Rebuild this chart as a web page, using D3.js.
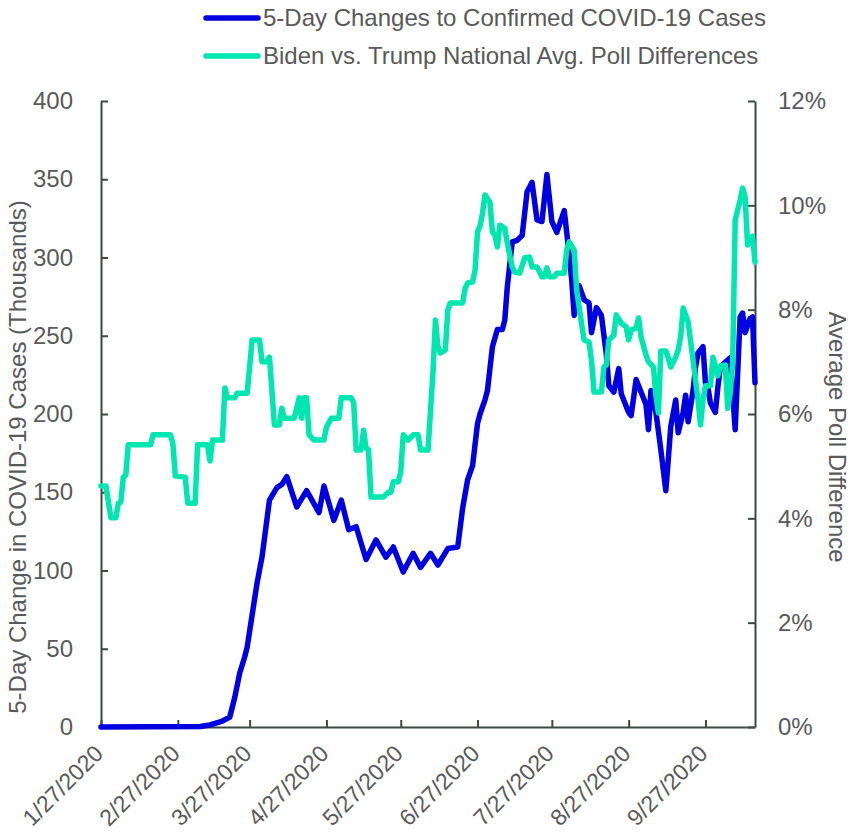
<!DOCTYPE html>
<html>
<head>
<meta charset="utf-8">
<script src="https://cdn.jsdelivr.net/npm/d3@7"></script>
<style>
  body { margin: 0; background: #fff; }
  svg text { font-family: "Liberation Sans", Arial, sans-serif; fill: #595959; }
</style>
</head>
<body>
<svg id="chart" width="852" height="833"></svg>
<script>
// 5-day change in confirmed cases (thousands)
var caseDates = ["1/27","3/7","3/11","3/16","3/19","3/21","3/23","3/25","3/26","3/30",
  "4/1","4/4","4/7","4/9","4/11","4/15","4/19","4/24","4/26","4/30",
  "5/3","5/6","5/9","5/13","5/17","5/21","5/24","5/28","6/1","6/4",
  "6/8","6/11","6/15","6/19","6/21","6/23","6/25","6/27","6/28","6/30",
  "7/1","7/3","7/5","7/7","7/8","7/9","7/11","7/13","7/15","7/17",
  "7/19","7/21","7/23","7/25","7/27","7/29","8/1","8/2","8/4","8/5",
  "8/7","8/9","8/11","8/12","8/14","8/16","8/18","8/19","8/21","8/23",
  "8/24","8/27","8/28","8/30","9/1","9/3","9/4","9/5","9/7","9/9",
  "9/11","9/12","9/13","9/15","9/16","9/18","9/19","9/20","9/22","9/23",
  "9/24","9/26","9/27","9/28","9/29","10/1","10/2","10/3","10/5","10/7",
  "10/9","10/11","10/12","10/13","10/15","10/16","10/17"];
var caseValues = [0,0.3,1.3,3.8,6.4,19,34.5,44.7,51,92,
  108.6,145,153,155,160,140.6,151,137,154,132,
  145,126,128,107,119.5,108.6,115,99,111,102,
  111,103.5,114,115,140,158,167,194,200,209,
  215,243,254,254,260,281,310,311,314,342,
  348,324,323,353,323,316,330,316,286,263,
  282,273,271,252,268,263,238,218,214,229,
  213,201,199,222,214,206,190,215,201,177,
  151,171,192,209,188,201,212,195,215,230,
  239,243,220,217,207,201,217,230,233,236,
  190,262,264.5,252,261,262,220];

// Biden vs. Trump national average poll difference (%)
var pollDates = ["1/27","1/29","1/31","2/2","2/3","2/4","2/5","2/6","2/7","2/16",
  "2/17","2/24","2/25","2/26","3/1","3/2","3/5","3/6","3/10","3/11",
  "3/12","3/16","3/17","3/18","3/21","3/22","3/26","3/28","3/31","4/1",
  "4/3","4/4","4/6","4/8","4/9","4/10","4/14","4/16","4/17","4/18",
  "4/19","4/20","4/22","4/26","4/27","4/29","5/2","5/3","5/7","5/8",
  "5/9","5/11","5/12","5/13","5/14","5/15","5/20","5/22","5/23","5/24",
  "5/26","5/27","5/28","5/30","6/1","6/3","6/4","6/7","6/9","6/10",
  "6/11","6/12","6/14","6/15","6/16","6/21","6/22","6/23","6/25","6/26",
  "6/27","6/28","6/29","6/30","7/2","7/3","7/4","7/5","7/6","7/8",
  "7/9","7/11","7/12","7/14","7/16","7/18","7/19","7/21","7/23","7/24",
  "7/25","7/26","7/28","7/29","8/1","8/2","8/3","8/5","8/6","8/7",
  "8/9","8/11","8/12","8/13","8/16","8/17","8/18","8/19","8/21","8/22",
  "8/24","8/26","8/27","8/28","8/30","8/31","9/1","9/3","9/4","9/6",
  "9/7","9/8","9/9","9/11","9/12","9/13","9/15","9/16","9/17","9/18",
  "9/20","9/22","9/24","9/25","9/26","9/27","9/29","9/30","10/2","10/3",
  "10/5","10/6","10/7","10/8","10/9","10/11","10/12","10/13","10/14","10/16",
  "10/17"];
var pollValues = [4.62,4.62,4.01,4.01,4.29,4.31,4.79,4.83,5.41,5.41,
  5.60,5.60,5.44,4.81,4.79,4.29,4.29,5.41,5.41,5.10,
  5.50,5.50,6.50,6.31,6.31,6.40,6.40,7.42,7.42,7.00,
  7.00,7.09,5.79,5.79,6.11,5.92,5.92,6.31,5.92,6.31,
  6.31,5.60,5.50,5.50,5.75,5.92,5.92,6.31,6.31,6.21,
  5.31,5.31,5.69,5.35,5.31,4.41,4.41,4.50,4.50,4.70,
  4.70,4.89,5.60,5.50,5.60,5.60,5.31,5.31,6.79,7.80,
  7.30,7.17,7.23,7.99,8.13,8.13,8.41,8.51,8.53,8.76,
  9.49,9.60,9.85,10.20,10.06,9.49,9.43,9.20,9.62,9.56,
  9.28,8.82,8.72,8.70,8.99,9.01,8.82,8.82,8.63,8.63,
  8.80,8.63,8.63,8.70,8.70,9.14,9.30,9.14,8.38,8.05,
  7.42,7.38,7.03,6.42,6.42,6.90,6.94,7.42,7.51,7.90,
  7.74,7.67,7.42,7.61,7.65,7.84,7.48,7.13,7.00,6.90,
  6.36,6.02,7.21,7.21,7.07,6.90,7.09,7.23,7.48,8.03,
  7.76,7.03,6.27,5.79,6.27,6.54,6.54,7.09,6.73,6.92,
  6.94,6.11,6.40,7.00,9.72,10.10,10.33,10.16,9.24,9.41,
  8.91];

var tickDates = ["1/27","2/27","3/27","4/27","5/27","6/27","7/27","8/27","9/27"];
var caseTicks = [0,50,100,150,200,250,300,350,400];
var pollTicks = [0,2,4,6,8,10,12];

var caseLabel = "5-Day Changes to Confirmed COVID-19 Cases";
var pollLabel = "Biden vs. Trump National Avg. Poll Differences";

var parse = d3.timeParse("%m/%d/%Y");
function toDate(s) { return parse(s + "/2020"); }

var svg = d3.select("#chart");
var axisColor = "#3b4a41";
var blue = "#0000e1", green = "#00e6b0";

var x = d3.scaleTime()
    .domain([toDate("1/27"), toDate("10/17")])
    .range([101, 755]);
var yL = d3.scaleLinear().domain([0, 400]).range([727, 101]);
var yR = d3.scaleLinear().domain([0, 12]).range([727, 101]);

var caseData = caseDates.map(function(d, i) { return { date: toDate(d), v: caseValues[i] }; });
var pollData = pollDates.map(function(d, i) { return { date: toDate(d), v: pollValues[i] }; });

// axes
var gL = svg.append("g").attr("transform", "translate(101,0)")
    .call(d3.axisLeft(yL).tickValues(caseTicks).tickSizeInner(-7).tickSizeOuter(0).tickPadding(28));
var gR = svg.append("g").attr("transform", "translate(755,0)")
    .call(d3.axisRight(yR).tickValues(pollTicks).tickSizeInner(-7).tickSizeOuter(0).tickPadding(23)
      .tickFormat(function(d) { return d + "%"; }));
var gB = svg.append("g").attr("transform", "translate(0,727)")
    .call(d3.axisBottom(x).tickValues(tickDates.map(toDate)).tickSizeInner(-7).tickSizeOuter(0)
      .tickFormat(d3.timeFormat("%-m/%-d/%Y")));

[gL, gR, gB].forEach(function(g) {
  g.selectAll("path, line").attr("stroke", axisColor).attr("stroke-width", 2);
  g.selectAll("text").attr("font-size", 24).attr("fill", "#595959")
    .attr("font-family", "Liberation Sans, Arial, sans-serif");
});
gL.selectAll("text").attr("text-anchor", "end");
gR.selectAll("text").attr("text-anchor", "start");
gB.selectAll("text")
    .attr("font-size", 23)
    .attr("text-anchor", "end")
    .attr("y", 0).attr("dy", 0)
    .attr("transform", "translate(3,28) rotate(-45)");

// lines
var line = function(ys) {
  return d3.line()
    .x(function(d) { return x(d.date); })
    .y(function(d) { return ys(d.v); });
};

svg.append("path").datum(caseData)
    .attr("fill", "none").attr("stroke", blue).attr("stroke-width", 5.5)
    .attr("stroke-linejoin", "round").attr("stroke-linecap", "round")
    .attr("d", line(yL));

svg.append("path").datum(pollData)
    .attr("fill", "none").attr("stroke", green).attr("stroke-width", 5.5)
    .attr("stroke-linejoin", "round").attr("stroke-linecap", "round")
    .attr("d", line(yR));

// axis titles
svg.append("text")
    .attr("transform", "translate(26,457) rotate(-90)")
    .attr("text-anchor", "middle").attr("font-size", 24)
    .text("5-Day Change in COVID-19 Cases (Thousands)");
svg.append("text")
    .attr("transform", "translate(829,437) rotate(90)")
    .attr("text-anchor", "middle").attr("font-size", 24)
    .text("Average Poll Difference");

// legend
var legend = svg.append("g");
[[caseLabel, blue, 18], [pollLabel, green, 56]].forEach(function(d) {
  legend.append("line")
      .attr("x1", 206).attr("x2", 258).attr("y1", d[2]).attr("y2", d[2])
      .attr("stroke", d[1]).attr("stroke-width", 5.5).attr("stroke-linecap", "round");
  legend.append("text")
      .attr("x", 263).attr("y", d[2]).attr("dy", "0.35em")
      .attr("font-size", 24)
      .text(d[0]);
});
</script>
</body>
</html>
